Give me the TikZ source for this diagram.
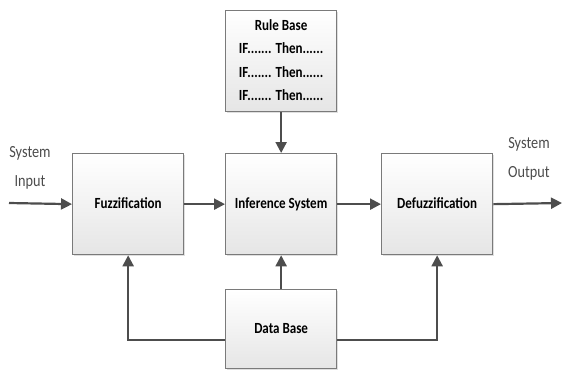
\documentclass[tikz,border=0pt]{standalone}
\usepackage{fontspec}
\setmainfont{Carlito}
\usetikzlibrary{arrows.meta,shadows,calc}
\definecolor{boxline}{HTML}{7A7A7A}
\definecolor{arrowcol}{HTML}{4D4D4D}
\newcommand{\sqz}[1]{\scalebox{0.84}[1]{\begin{tabular}{@{}c@{}}#1\end{tabular}}}
\tikzset{
  blk/.style={draw=boxline, line width=1.3pt, top color=white, bottom color=black!10,
    drop shadow={opacity=0.25, shadow xshift=1.2pt, shadow yshift=-1.2pt},
    font=\fontsize{15.5}{22.5}\selectfont\bfseries, align=center, inner sep=0pt},
  conn/.style={draw=arrowcol, line width=2.2pt},
  arr/.style={conn, -{Triangle[length=11pt,width=11pt]}},
  lbl/.style={font=\fontsize{17}{26}\selectfont, text=black!70, align=center, inner sep=0pt}
}
\begin{document}
\begin{tikzpicture}[x=1pt,y=-1pt]
\useasboundingbox (0,0) rectangle (562,370);
\node[blk, minimum width=111pt, minimum height=101pt, anchor=north west] (rule) at (225,10)
  {\sqz{Rule Base\\[1pt]IF....... Then......\\[1pt]IF....... Then......\\[1pt]IF....... Then......}};
\node[blk, minimum width=111pt, minimum height=101pt, anchor=north west] (fuzz) at (72,153) {\sqz{Fuzzification}};
\node[blk, minimum width=111pt, minimum height=101pt, anchor=north west] (inf) at (225,153) {\sqz{Inference System}};
\node[blk, minimum width=111pt, minimum height=101pt, anchor=north west] (defuzz) at (381,153) {\sqz{Defuzzification}};
\node[blk, minimum width=111pt, minimum height=79pt, anchor=north west] (data) at (225,289) {\sqz{Data Base}};
\node[lbl] (sin) at (30,167) {\sqz{System\\[3pt]Input}};
\node[lbl] (sout) at (529,158) {\sqz{System\\[3pt]Output}};
\coordinate (inL) at (9,203);
\coordinate (outR) at (562,203);
\draw[arr] (inL) -- (fuzz.west);
\draw[arr] (fuzz.east) -- (inf.west);
\draw[arr] (inf.east) -- (defuzz.west);
\draw[arr] (defuzz.east) -- (outR);
\draw[arr] (rule.south) -- (inf.north);
\draw[arr] (data.north) -- (inf.south);
\draw[arr] (data.west |- 0,340) -| (fuzz.south);
\draw[arr] (data.east |- 0,340) -| (defuzz.south);
\end{tikzpicture}
\end{document}
